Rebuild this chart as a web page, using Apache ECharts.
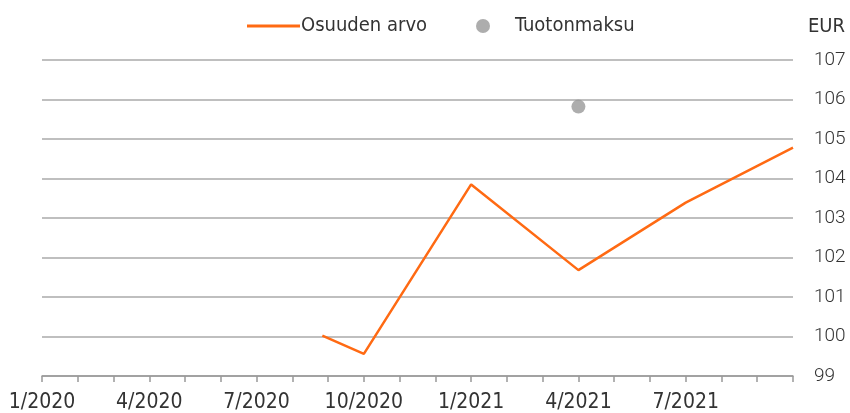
<!DOCTYPE html>
<html><head><meta charset="utf-8">
<script src="https://cdn.jsdelivr.net/npm/echarts@6/dist/echarts.min.js"></script>
<style>html,body{margin:0;padding:0;background:#fff}#c{width:850px;height:413px}</style>
</head><body><div id="c"></div>
<script>
// Data
const monthLabels = ['1/2020','2/2020','3/2020','4/2020','5/2020','6/2020','7/2020','8/2020','9/2020','10/2020','11/2020','12/2020',
  '1/2021','2/2021','3/2021','4/2021','5/2021','6/2021','7/2021','8/2021','9/2021','10/2021'];
const navDates = ['2020-08-27','2020-10-01','2021-01-01','2021-04-01','2021-07-01','2021-10-01'];
const navValues = [100.02, 99.56, 103.85, 101.68, 103.39, 104.78];
const dividendDates = ['2021-04-01'];
const dividendValues = [105.82];
const yTicks = [99,100,101,102,103,104,105,106,107];
const unitLabel = 'EUR';

function monthIndex(d){
  const [y,m,day] = d.split('-').map(Number);
  const dim = new Date(y, m, 0).getDate();
  return (y-2020)*12 + (m-1) + (day-1)/dim;
}
const narrow = '"Liberation Sans Narrow","DejaVu Sans Condensed",sans-serif';
const chart = echarts.init(document.getElementById('c'));
chart.setOption({
  animation:false,
  title:{text:unitLabel,left:803,top:12,textStyle:{fontFamily:narrow,fontSize:20,fontWeight:'normal',color:'#333'}},
  grid:{left:42,right:57,top:60,bottom:36},
  legend:[{
    top:16,left:247,padding:0,
    textStyle:{fontFamily:narrow,fontSize:20,color:'#333',padding:[0,0,0,-4]},
    data:[{name:'Osuuden arvo',icon:'rect',itemStyle:{color:'#FF6A13'}}],
    itemWidth:53,itemHeight:3
  },{
    top:16,left:476,padding:0,
    textStyle:{fontFamily:narrow,fontSize:20,color:'#333',padding:[0,0,0,20]},
    data:[{name:'Tuotonmaksu',icon:'circle'}],
    itemWidth:14,itemHeight:14
  }],
  xAxis:{
    type:'value',min:0,max:monthLabels.length-1,interval:1,
    axisLine:{show:true,lineStyle:{color:'#999',width:1.5}},
    axisTick:{show:true,length:6,lineStyle:{color:'#999',width:1.5}},
    splitLine:{show:false},
    axisLabel:{fontFamily:narrow,fontSize:21,color:'#333',margin:16,
      formatter:(v)=> (v%3===0 && v<monthLabels.length-1) ? monthLabels[v] : ''}
  },
  yAxis:{
    type:'value',position:'right',min:yTicks[0],max:yTicks[yTicks.length-1],interval:1,
    axisLine:{show:false},axisTick:{show:false},
    splitLine:{lineStyle:{color:'#aaa',width:1.5}},
    axisLabel:{fontFamily:'Roboto',fontWeight:300,fontSize:19,color:'#333',margin:21}
  },
  series:[
    {name:'Osuuden arvo',type:'line',symbol:'none',lineStyle:{color:'#FF6A13',width:2.5},itemStyle:{color:'#FF6A13'},
     data:navDates.map((d,i)=>[monthIndex(d),navValues[i]])},
    {name:'Tuotonmaksu',type:'scatter',symbolSize:14,itemStyle:{color:'#999'},
     data:dividendDates.map((d,i)=>[monthIndex(d),dividendValues[i]])}
  ]
});
</script></body></html>
